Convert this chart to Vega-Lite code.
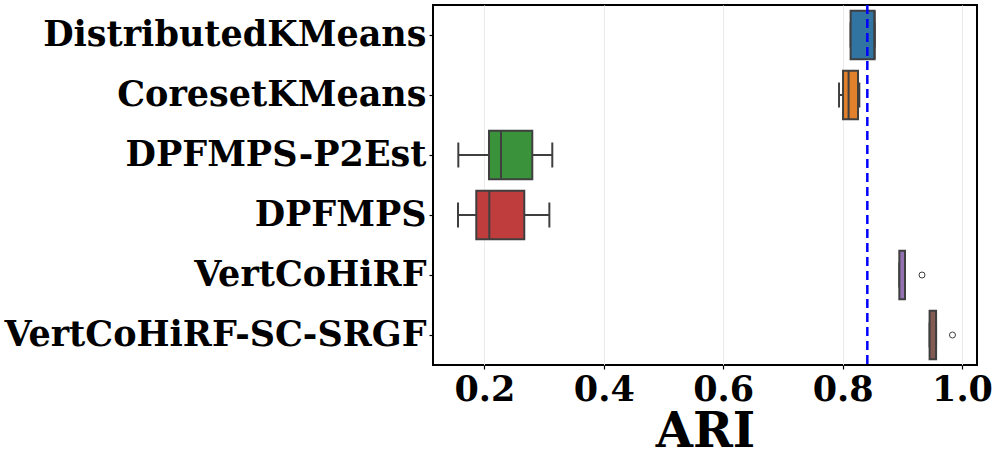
{
  "$schema": "https://vega.github.io/schema/vega-lite/v6.json",
  "width": 544,
  "height": 360,
  "autosize": {"type": "none"},
  "padding": {"left": 433, "top": 5, "right": 20, "bottom": 93},
  "config": {
    "view": {"stroke": "black", "strokeWidth": 2},
    "font": "DejaVu Serif"
  },
  "datasets": {
    "boxes": [
      {"method": "DistributedKMeans", "min": 0.8134, "q1": 0.8134, "median": 0.8534, "q3": 0.8536, "max": 0.8536},
      {"method": "CoresetKMeans", "min": 0.794, "q1": 0.8007, "median": 0.810, "q3": 0.8258, "max": 0.828},
      {"method": "DPFMPS-P2Est", "min": 0.1563, "q1": 0.2077, "median": 0.2278, "q3": 0.2802, "max": 0.3137},
      {"method": "DPFMPS", "min": 0.1558, "q1": 0.1864, "median": 0.2082, "q3": 0.2668, "max": 0.3088},
      {"method": "VertCoHiRF", "min": 0.895, "q1": 0.895, "median": 0.9045, "q3": 0.9045, "max": 0.9045},
      {"method": "VertCoHiRF-SC-SRGF", "min": 0.9457, "q1": 0.9457, "median": 0.9565, "q3": 0.9565, "max": 0.9565}
    ],
    "outliers": [
      {"method": "VertCoHiRF", "value": 0.933},
      {"method": "VertCoHiRF-SC-SRGF", "value": 0.984}
    ],
    "ref": [{"value": 0.8414}]
  },
  "encoding": {
    "y": {
      "field": "method",
      "type": "nominal",
      "sort": ["DistributedKMeans", "CoresetKMeans", "DPFMPS-P2Est", "DPFMPS", "VertCoHiRF", "VertCoHiRF-SC-SRGF"],
      "scale": {"paddingInner": 0.19, "paddingOuter": 0.095},
      "axis": {
        "title": null,
        "labelFontSize": 35,
        "labelFontWeight": "bold",
        "labelColor": "black",
        "labelLimit": 0,
        "labelPadding": 3,
        "tickSize": 4,
        "tickColor": "black",
        "tickWidth": 1.2,
        "domain": false,
        "grid": false
      }
    }
  },
  "layer": [
    {
      "data": {"name": "boxes"},
      "mark": {"type": "rule", "color": "#3f3f3f", "strokeWidth": 2},
      "encoding": {
        "x": {
          "field": "min",
          "type": "quantitative",
          "title": "ARI",
          "scale": {"domain": [0.1139, 1.0251], "nice": false, "zero": false},
          "axis": {
            "title": "ARI",
            "titleFontSize": 48,
            "titleFontWeight": "bold",
            "titleColor": "black",
            "titlePadding": 1,
            "labelFontSize": 35,
            "labelFontWeight": "bold",
            "labelColor": "black",
            "labelPadding": 3,
            "values": [0.2, 0.4, 0.6, 0.8, 1.0],
            "format": ".1f",
            "grid": true,
            "gridColor": "#ebebeb",
            "gridWidth": 1,
            "tickSize": 4,
            "tickColor": "black",
            "tickWidth": 1.2,
            "domain": false,
            "labelFlush": false
          }
        },
        "x2": {"field": "q1"}
      }
    },
    {
      "data": {"name": "boxes"},
      "mark": {"type": "rule", "color": "#3f3f3f", "strokeWidth": 2},
      "encoding": {
        "x": {"field": "q3", "type": "quantitative", "title": "ARI"},
        "x2": {"field": "max"}
      }
    },
    {
      "data": {"name": "boxes"},
      "mark": {"type": "tick", "color": "#3f3f3f", "thickness": 2, "size": 25, "opacity": 1},
      "encoding": {
        "x": {"field": "min", "type": "quantitative", "title": "ARI"}
      }
    },
    {
      "data": {"name": "boxes"},
      "mark": {"type": "tick", "color": "#3f3f3f", "thickness": 2, "size": 25, "opacity": 1},
      "encoding": {
        "x": {"field": "max", "type": "quantitative", "title": "ARI"}
      }
    },
    {
      "data": {"name": "boxes"},
      "mark": {"type": "bar", "stroke": "#3f3f3f", "strokeWidth": 2, "opacity": 1},
      "encoding": {
        "x": {"field": "q1", "type": "quantitative", "title": "ARI"},
        "x2": {"field": "q3"},
        "color": {
          "field": "method",
          "type": "nominal",
          "legend": null,
          "scale": {
            "domain": ["DistributedKMeans", "CoresetKMeans", "DPFMPS-P2Est", "DPFMPS", "VertCoHiRF", "VertCoHiRF-SC-SRGF"],
            "range": ["#3274a1", "#e1812c", "#3a923a", "#c03d3e", "#9372b2", "#845b53"]
          }
        }
      }
    },
    {
      "data": {"name": "boxes"},
      "mark": {"type": "tick", "color": "#3f3f3f", "thickness": 2, "size": 48, "opacity": 1},
      "encoding": {
        "x": {"field": "median", "type": "quantitative", "title": "ARI"}
      }
    },
    {
      "data": {"name": "outliers"},
      "mark": {"type": "point", "shape": "circle", "filled": false, "size": 36, "stroke": "#3f3f3f", "strokeWidth": 1, "opacity": 1},
      "encoding": {
        "x": {"field": "value", "type": "quantitative", "title": "ARI"}
      }
    },
    {
      "data": {"name": "ref"},
      "mark": {"type": "rule", "color": "#0000ff", "strokeWidth": 2.5, "strokeDash": [9, 5]},
      "encoding": {
        "x": {"field": "value", "type": "quantitative", "title": "ARI"},
        "y": null
      }
    }
  ]
}
